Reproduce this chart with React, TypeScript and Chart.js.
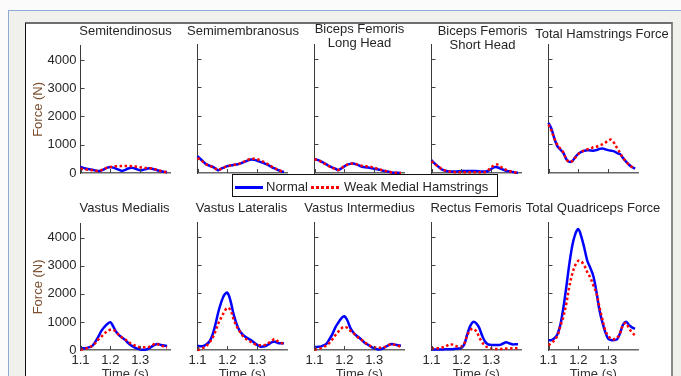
import React, { useEffect, useRef } from 'react';
import { Chart, registerables } from 'chart.js';

Chart.register(...registerables);

// ---------------- DATA ----------------
const TIME = [
  1.10, 1.11, 1.12, 1.13, 1.14, 1.15, 1.16, 1.17, 1.18, 1.19,
  1.20, 1.21, 1.22, 1.23, 1.24, 1.25, 1.26, 1.27, 1.28, 1.29,
  1.30, 1.31, 1.32, 1.33, 1.34, 1.35, 1.36, 1.37, 1.38, 1.39,
];
const X_TICKS = [1.1, 1.2, 1.3];
const Y_TICKS = [0, 1000, 2000, 3000, 4000];
const SERIES_NAMES = ['Normal', 'Weak Medial Hamstrings'];
const X_LABEL = 'Time (s)';
const Y_LABEL = 'Force (N)';

const TITLES = [
  ['Semitendinosus'],
  ['Semimembranosus'],
  ['Biceps Femoris', 'Long Head'],
  ['Biceps Femoris', 'Short Head'],
  ['Total Hamstrings Force'],
  ['Vastus Medialis'],
  ['Vastus Lateralis'],
  ['Vastus Intermedius'],
  ['Rectus Femoris'],
  ['Total Quadriceps Force'],
];

const SEMITENDINOSUS_NORMAL = [210, 180, 150, 130, 120, 90, 70, 90, 140, 190, 210, 190, 150, 110, 75, 110, 160, 190, 170, 130, 95, 110, 140, 165, 150, 120, 90, 60, 40, 30];
const SEMITENDINOSUS_WEAK = [150, 140, 120, 110, 100, 80, 70, 100, 150, 190, 210, 230, 240, 240, 250, 250, 250, 240, 230, 220, 200, 180, 175, 170, 160, 130, 100, 70, 45, 30];

const SEMIMEMBRANOSUS_NORMAL = [590, 490, 390, 300, 260, 220, 160, 100, 150, 200, 240, 260, 280, 295, 320, 360, 400, 440, 470, 460, 430, 390, 355, 310, 260, 200, 150, 100, 60, 40];
const SEMIMEMBRANOSUS_WEAK = [520, 460, 380, 300, 250, 210, 150, 110, 150, 200, 240, 260, 280, 300, 330, 370, 420, 470, 500, 500, 480, 440, 400, 340, 280, 220, 160, 110, 70, 40];

const BF_LONG_NORMAL = [495, 460, 420, 360, 300, 240, 190, 150, 100, 160, 230, 290, 320, 330, 300, 260, 220, 200, 190, 170, 150, 130, 110, 80, 60, 40, 20, 10, 5, 0];
const BF_LONG_WEAK = [480, 450, 410, 350, 290, 230, 180, 140, 110, 170, 240, 290, 320, 330, 310, 280, 250, 240, 230, 215, 190, 150, 120, 90, 65, 40, 20, 10, 5, 0];

const BF_SHORT_NORMAL = [450, 340, 250, 160, 100, 70, 55, 50, 50, 60, 70, 70, 70, 70, 70, 70, 60, 50, 50, 70, 140, 200, 200, 160, 120, 80, 60, 40, 20, 5];
const BF_SHORT_WEAK = [410, 320, 240, 170, 110, 70, 50, 40, 30, 25, 25, 25, 25, 25, 25, 30, 30, 30, 35, 100, 200, 270, 300, 230, 160, 110, 70, 40, 20, 5];

const HAMSTRINGS_NORMAL = [1760, 1540, 1200, 930, 820, 700, 480, 390, 420, 560, 680, 740, 780, 800, 790, 780, 800, 840, 860, 830, 800, 780, 760, 700, 660, 520, 400, 290, 210, 150];
const HAMSTRINGS_WEAK = [1700, 1480, 1200, 980, 850, 720, 480, 390, 420, 540, 660, 740, 790, 830, 850, 900, 920, 960, 1000, 1060, 1130, 1170, 1050, 870, 700, 520, 400, 290, 210, 150];

const VM_NORMAL = [60, 60, 70, 100, 150, 300, 480, 680, 820, 930, 990, 830, 640, 520, 440, 360, 250, 160, 100, 50, 20, 10, 20, 60, 130, 190, 210, 180, 160, 140];
const VM_WEAK = [10, 30, 60, 100, 160, 250, 380, 480, 580, 680, 720, 720, 640, 520, 440, 370, 300, 220, 170, 130, 100, 95, 95, 110, 160, 230, 200, 170, 120, 90];

const VL_NORMAL = [150, 130, 140, 200, 300, 520, 900, 1350, 1700, 1950, 2020, 1760, 1300, 950, 700, 560, 470, 400, 340, 260, 180, 120, 120, 150, 210, 280, 290, 250, 240, 240];
const VL_WEAK = [0, 30, 80, 150, 260, 420, 650, 940, 1150, 1350, 1490, 1420, 1120, 860, 680, 520, 410, 340, 280, 220, 180, 170, 170, 190, 260, 340, 380, 300, 250, 210];

const VI_NORMAL = [110, 110, 120, 160, 220, 380, 560, 800, 970, 1120, 1190, 1050, 780, 620, 510, 430, 340, 240, 180, 110, 60, 25, 25, 60, 120, 180, 210, 190, 170, 150];
const VI_WEAK = [10, 30, 60, 110, 160, 250, 380, 520, 650, 760, 820, 780, 680, 600, 500, 410, 340, 260, 190, 130, 100, 80, 80, 100, 120, 180, 210, 180, 150, 110];

const RF_NORMAL = [20, 20, 20, 20, 20, 25, 25, 30, 40, 50, 70, 200, 560, 850, 990, 940, 780, 500, 290, 200, 180, 175, 175, 180, 230, 270, 240, 200, 200, 200];
const RF_WEAK = [50, 60, 60, 70, 100, 140, 200, 190, 140, 120, 120, 230, 520, 700, 750, 660, 450, 270, 150, 80, 50, 35, 35, 35, 40, 50, 55, 60, 60, 60];

const QUADRICEPS_NORMAL = [350, 350, 420, 560, 900, 1500, 2250, 3050, 3700, 4100, 4270, 4000, 3600, 3150, 2900, 2620, 2100, 1450, 1000, 640, 400, 350, 350, 380, 600, 900, 1000, 880, 800, 750];
const QUADRICEPS_WEAK = [170, 250, 350, 500, 850, 1180, 1650, 2250, 2700, 3000, 3150, 3120, 2980, 2750, 2560, 2290, 2030, 1550, 1100, 700, 500, 400, 380, 430, 600, 880, 950, 760, 620, 520];

const NORMAL_SERIES = [
  SEMITENDINOSUS_NORMAL, SEMIMEMBRANOSUS_NORMAL, BF_LONG_NORMAL, BF_SHORT_NORMAL, HAMSTRINGS_NORMAL,
  VM_NORMAL, VL_NORMAL, VI_NORMAL, RF_NORMAL, QUADRICEPS_NORMAL,
];
const WEAK_SERIES = [
  SEMITENDINOSUS_WEAK, SEMIMEMBRANOSUS_WEAK, BF_LONG_WEAK, BF_SHORT_WEAK, HAMSTRINGS_WEAK,
  VM_WEAK, VL_WEAK, VI_WEAK, RF_WEAK, QUADRICEPS_WEAK,
];

// ---------------- LAYOUT / STYLE ----------------
const FONT = '"Liberation Sans", Arial, Helvetica, sans-serif';
const TEXT_COLOR = '#262626';
const YLABEL_COLOR = '#7d5234';
const BLUE = '#0000ff';
const RED = '#ff0000';
const PLOT_LEFT = [80.5, 197.5, 314.5, 431.5, 548.5];
const PLOT_W = 89.5;
const ROW_TOP = [44.5, 222.5];
const ROW_BOTTOM = [173, 350];
const X_AXIS_H = 40;
// title centre positions [x, y of first line]
const TITLE_POS = [
  [125.5, 31], [243, 31], [359.5, 28.7], [482.5, 30.5], [602, 33.5],
  [124.5, 208], [241.5, 208], [359.5, 208], [476, 208], [593, 208],
];

Chart.defaults.font.family = FONT;
Chart.defaults.font.size = 13;

const inwardTicks = {
  id: 'inwardTicks',
  afterDraw(chart: any) {
    const { ctx, chartArea, scales } = chart;
    const xs = scales.x;
    const ys = scales.y;
    ctx.save();
    ctx.strokeStyle = '#444';
    ctx.lineWidth = 1;
    ctx.beginPath();
    for (const v of Y_TICKS) {
      if (v === 0) continue;
      const py = Math.round(ys.getPixelForValue(v)) + 0.5;
      ctx.moveTo(chartArea.left, py);
      ctx.lineTo(chartArea.left + 4, py);
    }
    for (const v of X_TICKS) {
      const px = Math.round(xs.getPixelForValue(v)) + 0.5;
      ctx.moveTo(px, chartArea.bottom);
      ctx.lineTo(px, chartArea.bottom - 4);
    }
    ctx.stroke();
    ctx.restore();
  },
};

function SubPlot({ idx }: { idx: number }) {
  const ref = useRef<HTMLCanvasElement | null>(null);
  const row = idx < 5 ? 0 : 1;
  const col = idx % 5;
  const plotLeft = PLOT_LEFT[col];
  const canvasLeft = Math.floor(plotLeft) - 70;
  const yW = plotLeft - canvasLeft;
  const canvasTop = Math.floor(ROW_TOP[row]) - 10;
  const padTop = ROW_TOP[row] - canvasTop;
  const canvasW = Math.round(yW + PLOT_W + 10);
  const canvasH = Math.round(ROW_BOTTOM[row] - canvasTop + X_AXIS_H);

  useEffect(() => {
    if (!ref.current) return;
    const normal = NORMAL_SERIES[idx];
    const weak = WEAK_SERIES[idx];
    const chart = new Chart(ref.current, {
      type: 'line',
      data: {
        datasets: [
          {
            label: SERIES_NAMES[0],
            data: TIME.map((t, i) => ({ x: t, y: normal[i] })),
            borderColor: BLUE,
            backgroundColor: BLUE,
            borderWidth: 2.5,
            pointRadius: 0,
            tension: 0.35,
            clip: false,
            order: 2,
          },
          {
            label: SERIES_NAMES[1],
            data: TIME.map((t, i) => ({ x: t, y: weak[i] })),
            borderColor: RED,
            backgroundColor: RED,
            borderWidth: 2.5,
            borderDash: [2.5, 2.5],
            pointRadius: 0,
            tension: 0.35,
            clip: false,
            order: 1,
          },
        ],
      },
      options: {
        animation: false,
        responsive: false,
        events: [],
        layout: { padding: { left: 0, top: padTop, right: canvasW - yW - PLOT_W, bottom: 0 } },
        plugins: { legend: { display: false }, tooltip: { enabled: false }, title: { display: false } },
        scales: {
          x: {
            type: 'linear',
            min: 1.1,
            max: 1.4,
            grid: { display: false, drawTicks: false },
            border: { display: true, color: '#666', width: 1.5 },
            afterBuildTicks: (s: any) => {
              s.ticks = X_TICKS.map((v) => ({ value: v }));
            },
            afterFit: (s: any) => {
              s.height = X_AXIS_H;
            },
            ticks: {
              display: row === 1,
              padding: 2.5,
              color: TEXT_COLOR,
              font: { size: 13 },
              maxRotation: 0,
              autoSkip: false,
              callback: (v: any) => Number(v).toFixed(1),
            },
            title: {
              display: row === 1,
              text: X_LABEL,
              color: '#333',
              font: { size: 13, lineHeight: 1 },
              padding: { top: 0, bottom: 9.5 },
            },
          },
          y: {
            type: 'linear',
            min: 0,
            max: 4500,
            grid: { display: false, drawTicks: false },
            border: { display: true, color: '#3a3a3a', width: 1 },
            afterBuildTicks: (s: any) => {
              s.ticks = Y_TICKS.map((v) => ({ value: v }));
            },
            afterFit: (s: any) => {
              s.width = yW;
            },
            ticks: {
              display: col === 0,
              padding: 4,
              color: TEXT_COLOR,
              font: { size: 13 },
              autoSkip: false,
              callback: (v: any) => String(v),
            },
            title: {
              display: col === 0,
              text: Y_LABEL,
              color: YLABEL_COLOR,
              font: { size: 13, lineHeight: 1 },
              padding: { top: 21.5, bottom: 0 },
            },
          },
        },
      },
      plugins: [inwardTicks],
    } as any);
    return () => chart.destroy();
  }, [idx]);

  const [tx, ty] = TITLE_POS[idx];
  return (
    <>
      <canvas
        ref={ref}
        width={canvasW}
        height={canvasH}
        style={{ position: 'absolute', left: canvasLeft, top: canvasTop, width: canvasW, height: canvasH }}
      />
      {TITLES[idx].map((line, i) => (
        <div
          key={i}
          style={{
            position: 'absolute',
            left: tx - 100,
            width: 200,
            top: ty + i * 14 - 7,
            height: 14,
            lineHeight: '14px',
            fontSize: 13,
            fontFamily: FONT,
            color: TEXT_COLOR,
            textAlign: 'center',
            whiteSpace: 'nowrap',
          }}
        >
          {line}
        </div>
      ))}
    </>
  );
}

export default function App() {
  return (
    <div
      style={{
        position: 'fixed',
        left: 0,
        top: 0,
        width: 681,
        height: 376,
        overflow: 'hidden',
        background: '#fbfbfb',
        fontFamily: FONT,
      }}
    >
      {/* window frame */}
      <div style={{ position: 'absolute', left: 8, top: 10, right: 0, bottom: 0, background: '#f0f0ec', borderTop: '1px solid #8cacd6', borderLeft: '1px solid #8cacd6' }} />
      {/* figure panel */}
      <div
        style={{
          position: 'absolute',
          left: 25,
          top: 22,
          width: 645,
          height: 380,
          background: '#ffffff',
          borderLeft: '1px solid #111',
          borderTop: '2px solid #6e6e6e',
          borderRight: '2px solid #8a8a8a',
        }}
      />
      {TITLES.map((_, i) => (
        <SubPlot key={i} idx={i} />
      ))}
      {/* legend */}
      <div
        style={{
          position: 'absolute',
          left: 232,
          top: 174,
          width: 264,
          height: 21,
          border: '1px solid #111',
          background: '#fff',
        }}
      >
        <div style={{ position: 'absolute', left: 2, top: 11, width: 28, height: 2.5, background: BLUE }} />
        <div style={{ position: 'absolute', left: 33, top: 5, lineHeight: '14px', fontSize: 13, color: TEXT_COLOR, whiteSpace: 'nowrap' }}>
          {SERIES_NAMES[0]}
        </div>
        <div
          style={{
            position: 'absolute',
            left: 78,
            top: 11,
            width: 30,
            height: 2.5,
            background: `repeating-linear-gradient(to right, ${RED} 0px, ${RED} 3px, transparent 3px, transparent 5px)`,
          }}
        />
        <div style={{ position: 'absolute', left: 111, top: 5, lineHeight: '14px', fontSize: 13, color: TEXT_COLOR, whiteSpace: 'nowrap' }}>
          {SERIES_NAMES[1]}
        </div>
      </div>
    </div>
  );
}
